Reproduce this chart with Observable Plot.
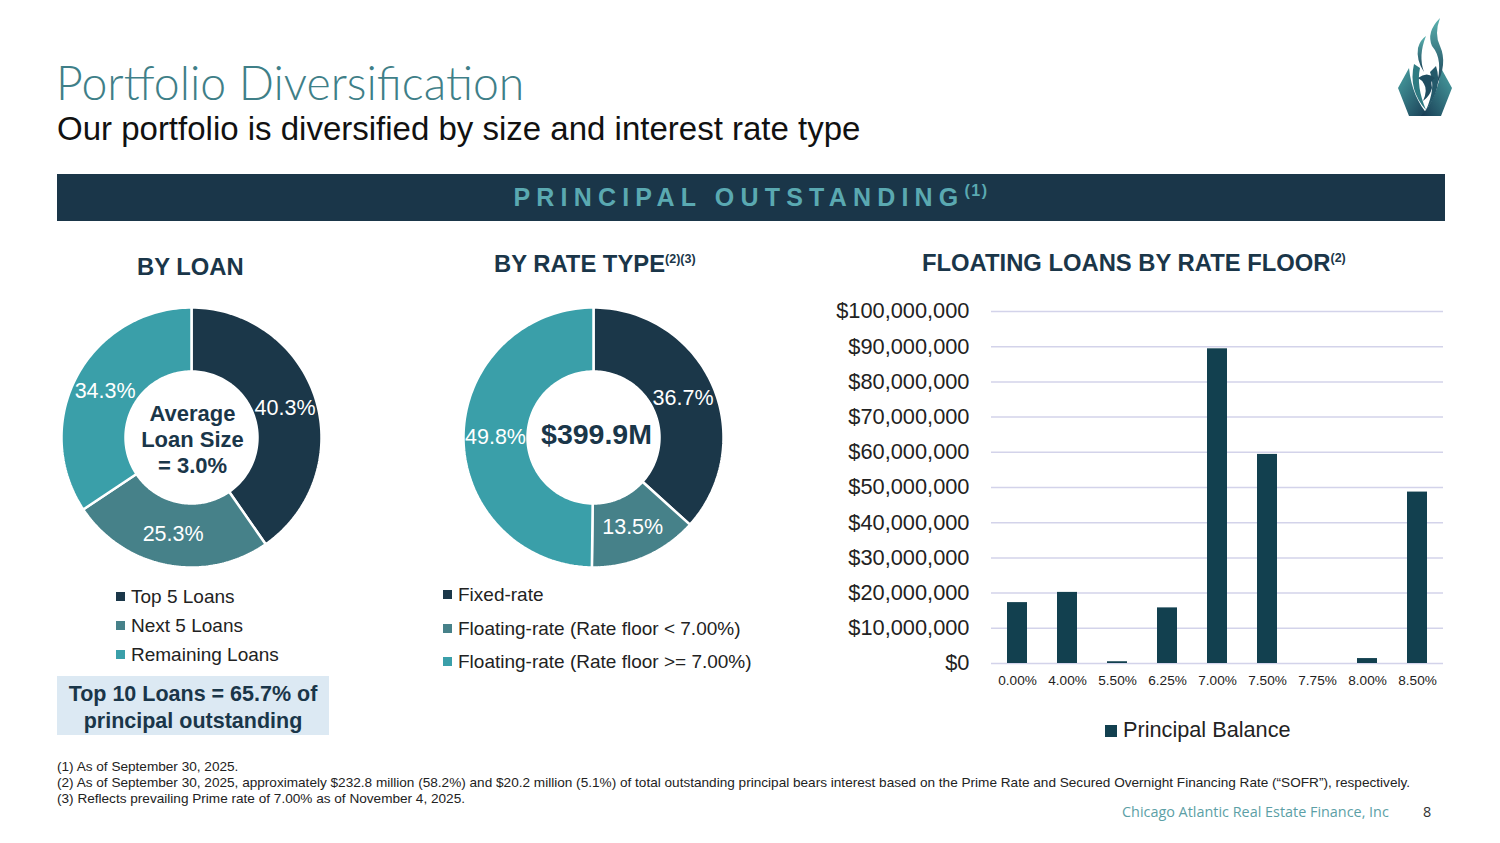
<!DOCTYPE html>
<html><head><meta charset="utf-8">
<script src="https://cdn.jsdelivr.net/npm/d3@7"></script>
<script src="https://cdn.jsdelivr.net/npm/@observablehq/plot@0.6"></script>
<style>
html,body{margin:0;padding:0;background:#fff;}
body{width:1500px;height:843px;position:relative;overflow:hidden;font-family:"Liberation Sans",Arial,sans-serif;color:#222;}
.abs{position:absolute;white-space:nowrap;}
#title{left:56px;top:54px;font-family:Lato,sans-serif;font-weight:300;font-size:46.4px;color:#3f7f88;}
#subtitle{left:57px;top:110px;font-size:33px;color:#111;}
#banner{left:57px;top:174px;width:1388px;height:47px;background:#1a3649;}
#banner div{position:absolute;left:0;right:0;top:9px;text-align:center;font-weight:bold;font-size:25px;letter-spacing:6.2px;color:#5aa9b1;}
#banner sup{font-size:16px;letter-spacing:1.5px;vertical-align:10px;line-height:0;}
.hdr{font-weight:bold;font-size:23.8px;color:#1a3649;}
.hdr sup{font-size:12.5px;vertical-align:9px;line-height:0;}
.leg{font-size:19px;color:#222;}
.leg span.sw{display:inline-block;width:9px;height:9px;margin-right:6px;vertical-align:2px;}
#box{left:57px;top:676px;width:272px;height:59px;background:#dce9f3;color:#1a3649;font-weight:bold;font-size:21.5px;text-align:center;line-height:27px;padding-top:5px;box-sizing:border-box;}
.foot{font-size:13.6px;color:#222;left:57px;}
#company{left:1122px;top:802px;font-family:"Open Sans",sans-serif;font-size:14.4px;color:#5c9fa6;}
#page{left:1423px;top:802px;font-family:"Open Sans",sans-serif;font-size:14.4px;color:#333;}
svg [aria-label^="y-axis"] text{font-size:21.8px;}
svg [aria-label^="x-axis"] text{font-size:13.6px;}
</style></head><body>

<div id="title" class="abs">Portfolio Diversification</div>
<div id="subtitle" class="abs">Our portfolio is diversified by size and interest rate type</div>
<div id="banner" class="abs"><div>PRINCIPAL OUTSTANDING<sup>(1)</sup></div></div>

<svg class="abs" style="left:1396px;top:16px" width="58" height="102" viewBox="0 0 58 102">
  <defs>
    <linearGradient id="lg1" x1="0" y1="0" x2="0" y2="1"><stop offset="0" stop-color="#5bb3b0"/><stop offset="1" stop-color="#1a3e55"/></linearGradient>
    <linearGradient id="lg2" x1="0" y1="0" x2="1" y2="1"><stop offset="0" stop-color="#4aa3a4"/><stop offset="1" stop-color="#173a52"/></linearGradient>
    <linearGradient id="lg3" x1="1" y1="0" x2="0" y2="1"><stop offset="0" stop-color="#4aa3a4"/><stop offset="1" stop-color="#173a52"/></linearGradient>
  </defs>
  <path d="M2,72 L13,52 C15,72 22,88 33,100 L13,100 Z" fill="url(#lg2)"/>
  <path d="M56,72 L45,52 C43,72 36,88 25,100 L45,100 Z" fill="url(#lg3)"/>
  <path d="M44,2 Q38,18 44,30 Q52,48 40,70 Q48,44 36,30 Q30,16 44,2 Z" fill="url(#lg1)"/>
  <path d="M30,20 Q22,40 28,56 Q20,44 22,32 Q24,24 30,20 Z" fill="url(#lg1)"/>
  <path d="M18,48 Q12,74 30,94 Q20,70 24,52 Z" fill="#2f7b82"/>
  <path d="M40,50 Q47,72 30,94 Q40,72 34,56 Z" fill="#24596a"/>
  <path d="M22,62 Q31,55 39,62 Q34,64 36,72 Q34,80 27,85 Q32,74 28,68 Q26,64 22,62 Z" fill="#1f4d60"/>
</svg>

<div class="abs hdr" style="left:137px;top:253px">BY LOAN</div>
<div class="abs hdr" style="left:494px;top:250px">BY RATE TYPE<sup>(2)(3)</sup></div>
<div class="abs hdr" style="left:922px;top:249px">FLOATING LOANS BY RATE FLOOR<sup>(2)</sup></div>

<div id="d1" class="abs" style="left:51px;top:297px"></div>
<div id="d2" class="abs" style="left:453px;top:297px"></div>
<div id="bars" class="abs" style="left:800px;top:290px"></div>

<div id="leg1" class="abs leg" style="left:116px;top:582px;line-height:29px"></div>
<div id="leg2" class="abs leg" style="left:443px;top:578px;line-height:33.5px"></div>

<div id="box" class="abs">Top 10 Loans = 65.7% of<br>principal outstanding</div>

<div class="abs leg" style="left:1105px;top:717px;font-size:21.7px"><span class="sw" style="width:12px;height:12px;background:#12404f;vertical-align:0px"></span>Principal Balance</div>

<div class="abs foot" style="top:759px">(1) As of September 30, 2025.</div>
<div class="abs foot" style="top:775px">(2) As of September 30, 2025, approximately $232.8 million (58.2%) and $20.2 million (5.1%) of total outstanding principal bears interest based on the Prime Rate and Secured Overnight Financing Rate (“SOFR”), respectively.</div>
<div class="abs foot" style="top:791px">(3) Reflects prevailing Prime rate of 7.00% as of November 4, 2025.</div>
<div id="company" class="abs">Chicago Atlantic Real Estate Finance, Inc</div>
<div id="page" class="abs">8</div>

<script>
// ---- data ----
const loanCategories = ["Top 5 Loans", "Next 5 Loans", "Remaining Loans"];
const loanShares = [40.3, 25.3, 34.3];
const rateCategories = ["Fixed-rate", "Floating-rate (Rate floor < 7.00%)", "Floating-rate (Rate floor >= 7.00%)"];
const rateShares = [36.7, 13.5, 49.8];
const sliceColors = ["#1b3749", "#468189", "#3a9fa9"];
const floorLabels = ["0.00%", "4.00%", "5.50%", "6.25%", "7.00%", "7.50%", "7.75%", "8.00%", "8.50%"];
const floorBalances = [17.3e6, 20.2e6, 0.5e6, 15.8e6, 89.4e6, 59.4e6, 0, 1.4e6, 48.7e6];
const yTicks = [0, 10e6, 20e6, 30e6, 40e6, 50e6, 60e6, 70e6, 80e6, 90e6, 100e6];

const R_OUT = 130, R_IN = 66;

function donut(cats, vals, centerText, centerSize, cdx, cdy) {
  const arcs = d3.pie().sort(null).value(d => d)(vals);
  const pts = [];
  arcs.forEach((p, i) => {
    const n = 90;
    const ring = [];
    for (let k = 0; k <= n; k++) {
      const a = p.startAngle + (p.endAngle - p.startAngle) * k / n;
      ring.push({cat: cats[i], x: R_OUT * Math.sin(a), y: R_OUT * Math.cos(a)});
    }
    for (let k = n; k >= 0; k--) {
      const a = p.startAngle + (p.endAngle - p.startAngle) * k / n;
      ring.push({cat: cats[i], x: R_IN * Math.sin(a), y: R_IN * Math.cos(a)});
    }
    ring.push(ring[0]);
    pts.push(...ring);
  });
  const rm = (R_OUT + R_IN) / 2;
  const labels = arcs.map((p, i) => {
    const a = (p.startAngle + p.endAngle) / 2;
    return {text: vals[i].toFixed(1) + "%", x: rm * Math.sin(a), y: rm * Math.cos(a)};
  });
  return Plot.plot({
    width: 280, height: 280, margin: 0,
    style: {fontFamily: "Liberation Sans, Arial, sans-serif", overflow: "visible", background: "transparent"},
    x: {domain: [-140, 140], axis: null},
    y: {domain: [-140, 140], axis: null},
    color: {domain: cats, range: sliceColors},
    marks: [
      Plot.line(pts, {x: "x", y: "y", z: "cat", fill: "cat", stroke: "white", strokeWidth: 2.5, strokeLinejoin: "miter"}),
      Plot.text(labels, {x: "x", y: "y", text: "text", fill: "white", fontSize: 21.5}),
      Plot.text([centerText], {x: () => 0, y: () => 0, text: d => d, fill: "#1a3649", fontSize: centerSize, fontWeight: "bold", lineHeight: 1.18, dx: cdx, dy: cdy})
    ]
  });
}

document.getElementById("d1").appendChild(donut(loanCategories, loanShares, "Average\nLoan Size\n= 3.0%", 22, 1, 1));
document.getElementById("d2").appendChild(donut(rateCategories, rateShares, "$399.9M", 28.5, 3, -4));

function legend(id, cats) {
  const el = document.getElementById(id);
  cats.forEach((c, i) => {
    const row = document.createElement("div");
    row.innerHTML = `<span class="sw" style="background:${sliceColors[i]}"></span>`;
    row.appendChild(document.createTextNode(c));
    el.appendChild(row);
  });
}
legend("leg1", loanCategories);
legend("leg2", rateCategories);

const barData = floorLabels.map((f, i) => ({floor: f, balance: floorBalances[i]}));
document.getElementById("bars").appendChild(Plot.plot({
  width: 660, height: 420,
  marginLeft: 191, marginRight: 17, marginTop: 21, marginBottom: 47,
  style: {fontFamily: "Liberation Sans, Arial, sans-serif", color: "#222", overflow: "visible", background: "transparent"},
  x: {domain: floorLabels, paddingInner: 0.6, paddingOuter: 0.3, label: null, tickSize: 0, tickPadding: 12},
  y: {domain: [0, 100e6], ticks: yTicks, tickFormat: d => "$" + d3.format(",")(d), label: null, tickSize: 0, tickPadding: 22},
  marks: [
    Plot.ruleY(yTicks, {stroke: "#d3d3ea", strokeWidth: 1.5}),
    Plot.barY(barData, {x: "floor", y: "balance", fill: "#12404f"})
  ]
}));
</script>
</body></html>
